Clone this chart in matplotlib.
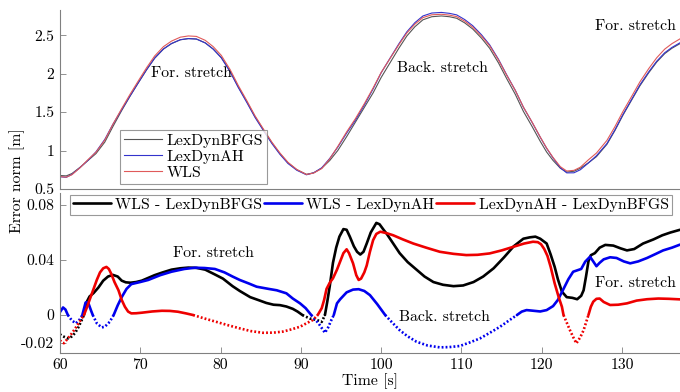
import numpy as np
import matplotlib
matplotlib.use("Agg")
import matplotlib.pyplot as plt

plt.rcParams['font.family'] = ['cmr10', 'DejaVu Serif']
plt.rcParams['mathtext.fontset'] = 'cm'
plt.rcParams['axes.unicode_minus'] = False
plt.rcParams['axes.formatter.use_mathtext'] = True

# ---- top panel: error norms ----
t_top = [60, 60.8, 61.5, 62.5, 63.5, 64.5, 65.6, 66.6, 67.7, 68.7, 69.7, 70.8, 71.8, 72.9, 73.9,
         75.0, 76.0, 77.0, 78.1, 79.1, 80.1, 81.2, 82.2, 83.3, 84.3, 85.4, 86.4, 87.4, 88.4, 89.5,
         90.7, 91.6, 92.6, 93.6, 94.6, 95.7, 96.8, 97.9, 99.0, 100.0, 101.1, 102.2, 103.2, 104.2,
         105.2, 106.3, 107.5, 108.5, 109.4, 110.4, 111.4, 112.5, 113.5, 114.6, 115.6, 116.7, 117.7,
         118.8, 119.8, 120.6, 121.4, 122.3, 123.1, 124.0, 124.8, 125.8, 126.8, 128.1, 129.1, 130.1,
         131.2, 132.2, 133.3, 134.3, 135.3, 136.2, 137.2]
bfgs = [0.675, 0.67, 0.70, 0.78, 0.87, 0.96, 1.11, 1.31, 1.52, 1.70, 1.87, 2.05, 2.20, 2.32, 2.39,
        2.44, 2.455, 2.45, 2.40, 2.32, 2.21, 2.03, 1.83, 1.63, 1.44, 1.26, 1.10, 0.96, 0.84, 0.75,
        0.69, 0.71, 0.77, 0.87, 1.00, 1.18, 1.37, 1.56, 1.75, 1.95, 2.14, 2.33, 2.49, 2.61,
        2.70, 2.74, 2.75, 2.74, 2.72, 2.66, 2.58, 2.46, 2.33, 2.14, 1.94, 1.73, 1.51,
        1.31, 1.12, 0.98, 0.87, 0.77, 0.72, 0.73, 0.77, 0.84, 0.92, 1.08, 1.26, 1.46,
        1.66, 1.84, 2.01, 2.15, 2.26, 2.33, 2.39]
lexah = [0.659, 0.651, 0.689, 0.777, 0.872, 0.983, 1.145, 1.34, 1.532, 1.703, 1.87, 2.052, 2.202, 2.321, 2.392,
         2.441, 2.456, 2.45, 2.399, 2.317, 2.205, 2.023, 1.822, 1.62, 1.43, 1.25, 1.09, 0.95, 0.831, 0.743,
         0.684, 0.71, 0.775, 0.897, 1.044, 1.226, 1.396, 1.591, 1.802, 2.011, 2.2, 2.387, 2.544, 2.663,
         2.75, 2.788, 2.796, 2.784, 2.764, 2.703, 2.623, 2.504, 2.375, 2.187, 1.989, 1.782, 1.564,
         1.364, 1.173, 1.028, 0.903, 0.775, 0.709, 0.71, 0.75, 0.838, 0.932, 1.09, 1.269, 1.469,
         1.669, 1.852, 2.022, 2.161, 2.272, 2.341, 2.401]
wls = [0.661, 0.653, 0.685, 0.774, 0.881, 0.978, 1.136, 1.339, 1.545, 1.724, 1.894, 2.077, 2.229, 2.351, 2.423,
       2.474, 2.49, 2.484, 2.433, 2.35, 2.237, 2.052, 1.848, 1.644, 1.451, 1.269, 1.108, 0.967, 0.846, 0.753,
       0.688, 0.707, 0.765, 0.891, 1.053, 1.242, 1.415, 1.608, 1.814, 2.015, 2.196, 2.376, 2.529, 2.644,
       2.729, 2.765, 2.772, 2.761, 2.741, 2.682, 2.604, 2.487, 2.362, 2.178, 1.984, 1.781, 1.566,
       1.367, 1.176, 1.032, 0.909, 0.79, 0.733, 0.742, 0.783, 0.879, 0.967, 1.131, 1.31, 1.508,
       1.707, 1.891, 2.064, 2.206, 2.319, 2.39, 2.452]

# ---- bottom panel: differences ----
t_k = [60.0, 60.4, 61.0, 61.5, 61.9, 62.3, 62.7, 63.0, 63.3, 63.7, 64.2, 64.8, 65.4, 66.0, 66.6, 67.2,
       67.7, 68.2, 68.8, 69.5, 70.2, 71.0, 71.8, 72.8, 73.9, 75.0, 76.0, 77.0, 78.1, 79.3, 80.3, 81.5,
       82.4, 83.7, 84.9, 85.7, 86.6, 87.4, 88.2, 89.0, 89.6, 90.2, 91.1, 92.0, 92.6, 93.0, 93.3, 93.6,
       94.0, 94.4, 94.8, 95.3, 95.7, 96.1, 96.6, 97.0, 97.4, 97.8, 98.2, 98.7, 99.4, 99.8, 100.3, 100.7,
       101.5, 102.3, 103.3, 104.4, 105.4, 106.5, 107.7, 109.0, 110.2, 111.5, 112.7, 114.0, 115.3, 116.5,
       117.7, 118.5, 119.2, 119.8, 120.6, 121.1, 121.6, 122.0, 122.5, 123.1, 123.8, 124.4, 124.9, 125.2,
       125.5, 125.8, 126.1, 126.6, 127.2, 127.9, 128.9, 129.8, 130.6, 131.5, 132.6, 133.9, 135.0, 136.0,
       137.2]
wls_bfgs = [-0.014, -0.0155, -0.017, -0.0155, -0.013, -0.009, -0.004, 0.0, 0.009, 0.0135, 0.016, 0.02,
            0.025, 0.028, 0.0292, 0.028, 0.025, 0.0238, 0.0235, 0.024, 0.025, 0.027, 0.029, 0.031, 0.033,
            0.034, 0.0345, 0.0343, 0.033, 0.0295, 0.0265, 0.021, 0.0175, 0.013, 0.0105, 0.0088, 0.0075,
            0.0072, 0.0062, 0.0045, 0.0025, 0.0, -0.0025, -0.0036, -0.005, 0.0, 0.01, 0.021, 0.038, 0.049,
            0.057, 0.0625, 0.062, 0.057, 0.05, 0.046, 0.044, 0.046, 0.052, 0.06, 0.067, 0.066, 0.062, 0.059,
            0.052, 0.045, 0.0385, 0.033, 0.028, 0.024, 0.022, 0.021, 0.0215, 0.024, 0.028, 0.034, 0.042,
            0.050, 0.0555, 0.0565, 0.057, 0.0555, 0.052, 0.044, 0.035, 0.026, 0.017, 0.013, 0.0125, 0.0115,
            0.014, 0.018, 0.028, 0.039, 0.0435, 0.045, 0.049, 0.051, 0.0505, 0.0485, 0.047, 0.048, 0.052,
            0.055, 0.058, 0.060, 0.062]

t_b = [60.0, 60.4, 60.7, 61.0, 61.5, 62.0, 62.5, 62.8, 63.2, 63.5, 63.9, 64.1, 64.6, 65.2, 65.6, 66.2,
       66.7, 67.2, 67.7, 68.3, 68.9, 70.0, 71.0, 72.5, 73.9, 75.5, 76.8, 78.0, 79.3, 80.5, 81.5, 82.4,
       83.5, 84.5, 86.0, 87.0, 88.2, 89.0, 89.9, 90.6, 91.3, 92.2, 93.0, 93.4, 93.8, 94.1, 94.5, 94.9,
       95.7, 96.5, 97.2, 97.9, 98.6, 99.5, 100.5, 101.3, 102.3, 103.3, 104.4, 105.8, 107.3, 108.5, 109.8,
       111.0, 112.3, 113.5, 114.8, 115.9, 116.9, 117.5, 118.1, 118.8, 119.8, 120.6, 121.4, 122.0, 122.7,
       123.3, 123.9, 124.4, 124.9, 125.4, 126.0, 126.4, 126.8, 127.2, 127.7, 128.5, 129.3, 130.2, 131.0,
       132.0, 133.1, 134.2, 135.1, 136.2, 137.2]
wls_ah = [0.002, 0.0055, 0.004, 0.0, -0.004, -0.006, -0.003, 0.0, 0.009, 0.0095, 0.003, 0.0, -0.006,
          -0.009, -0.0085, -0.005, 0.0, 0.007, 0.013, 0.019, 0.0225, 0.024, 0.0255, 0.029, 0.0315, 0.0335,
          0.0344, 0.0342, 0.0335, 0.031, 0.028, 0.0255, 0.023, 0.0206, 0.019, 0.018, 0.0158, 0.012, 0.0085,
          0.005, 0.0, -0.006, -0.0129, -0.009, -0.0036, 0.0, 0.0085, 0.0115, 0.0165, 0.0185, 0.0188, 0.0175,
          0.0145, 0.008, 0.0, -0.005, -0.011, -0.0155, -0.0194, -0.0222, -0.0235, -0.0233, -0.0225, -0.020,
          -0.017, -0.013, -0.0085, -0.004, 0.0, 0.0025, 0.0036, 0.0032, 0.0026, 0.0036, 0.0065, 0.011, 0.019,
          0.026, 0.0315, 0.0325, 0.0335, 0.0388, 0.0424, 0.039, 0.0355, 0.038, 0.0405, 0.042, 0.0415, 0.039,
          0.0376, 0.039, 0.0415, 0.0445, 0.047, 0.049, 0.0512]

t_r = [60.0, 60.5, 61.0, 61.5, 62.0, 62.5, 63.0, 63.4, 63.7, 64.2, 64.6, 65.0, 65.4, 65.8, 66.1, 66.4,
       66.8, 67.3, 67.7, 68.1, 68.5, 68.9, 69.5, 70.2, 71.5, 72.7, 73.7, 74.7, 75.7, 76.6, 78.0, 79.5,
       81.0, 82.4, 83.8, 85.3, 86.6, 87.8, 88.9, 89.9, 90.7, 91.5, 92.1, 92.6, 92.9, 93.2, 93.6, 94.0,
       94.5, 94.9, 95.3, 95.7, 96.0, 96.5, 96.9, 97.2, 97.5, 97.9, 98.2, 98.6, 99.0, 99.4, 99.9, 100.7,
       101.5, 102.7, 104.0, 105.6, 107.3, 109.0, 110.6, 112.0, 113.5, 115.0, 116.5, 117.8, 118.9, 119.5,
       119.9, 120.3, 120.7, 121.1, 121.6, 122.1, 122.5, 122.7, 123.1, 123.5, 123.9, 124.3, 124.8, 125.2,
       125.5, 125.8, 126.1, 126.4, 126.8, 127.2, 127.7, 128.5, 129.5, 130.6, 131.8, 133.1, 134.5, 135.8,
       137.2]
ah_bfgs = [-0.0185, -0.0205, -0.017, -0.0133, -0.009, -0.0045, 0.0, 0.006, 0.011, 0.019, 0.0255, 0.031,
           0.034, 0.035, 0.0335, 0.030, 0.024, 0.018, 0.011, 0.006, 0.0025, 0.0012, 0.0013, 0.0017, 0.0026,
           0.0031, 0.003, 0.0024, 0.0012, 0.0, -0.0025, -0.005, -0.0075, -0.0097, -0.0117, -0.0129, -0.0128,
           -0.012, -0.0103, -0.0085, -0.006, -0.0036, 0.0, 0.005, 0.011, 0.019, 0.0235, 0.0267, 0.033, 0.039,
           0.045, 0.0478, 0.045, 0.0376, 0.029, 0.0255, 0.0265, 0.031, 0.036, 0.046, 0.0545, 0.059, 0.0606,
           0.0595, 0.058, 0.055, 0.052, 0.049, 0.046, 0.0445, 0.0436, 0.0438, 0.0448, 0.047, 0.0497, 0.052,
           0.0533, 0.053, 0.0515, 0.048, 0.043, 0.035, 0.023, 0.013, 0.006, 0.0, -0.0055, -0.011, -0.016,
           -0.0206, -0.016, -0.011, -0.0055, 0.0, 0.006, 0.0097, 0.0118, 0.012, 0.0095, 0.0073, 0.0075,
           0.0085, 0.0105, 0.0115, 0.012, 0.0118, 0.0114]

GRAY = '#808080'
FS = 11.3

fig = plt.figure(figsize=(6.8, 3.92), dpi=100)
ax1 = fig.add_axes([0.088, 0.518, 0.912, 0.456])
ax2 = fig.add_axes([0.088, 0.0995, 0.912, 0.408])

for ax in (ax1, ax2):
    for s in ('top', 'right'):
        ax.spines[s].set_visible(False)
    for s in ('left', 'bottom'):
        ax.spines[s].set_color(GRAY)
        ax.spines[s].set_linewidth(0.8)
    ax.tick_params(direction='in', length=4, width=0.6, color=GRAY, labelsize=FS, pad=4)
    ax.set_xlim(60, 137.2)

# top
ax1.plot(t_top, bfgs, color='#555555', lw=0.8, label='LexDynBFGS')
ax1.plot(t_top, lexah, color='#3333cc', lw=0.8, label='LexDynAH')
ax1.plot(t_top, wls, color='#e05a5a', lw=0.8, label='WLS')
ax1.set_ylim(0.5, 2.825)
ax1.set_yticks([0.5, 1, 1.5, 2, 2.5], ['0.5', '1', '1.5', '2', '2.5'])
ax1.tick_params(axis='x', bottom=False, labelbottom=False)
leg1 = ax1.legend(loc='lower left', bbox_to_anchor=(0.097, 0.03), fontsize=FS, frameon=True,
                  fancybox=False, edgecolor=GRAY, handlelength=2.4, labelspacing=0.12,
                  borderpad=0.25, handletextpad=0.3, borderaxespad=0)
leg1.get_frame().set_linewidth(0.8)
ax1.text(76.4, 2.0, 'For. stretch', fontsize=FS, ha='center', va='center')
ax1.text(107.6, 2.07, 'Back. stretch', fontsize=FS, ha='center', va='center')
ax1.text(131.6, 2.62, 'For. stretch', fontsize=FS, ha='center', va='center')


def draw(ax, t, v, color, label):
    v = np.asarray(v, dtype=float)
    pos = np.where(v >= 0, v, np.nan)
    neg = np.where(v <= 0, v, np.nan)
    ax.plot(t, pos, color=color, lw=1.9, label=label, solid_joinstyle='round',
            solid_capstyle='round')
    ax.plot(t, neg, color=color, lw=1.9, linestyle=(0, (0.7, 0.8)))


draw(ax2, t_k, wls_bfgs, 'black', 'WLS - LexDynBFGS')
draw(ax2, t_b, wls_ah, '#0000ee', 'WLS - LexDynAH')
draw(ax2, t_r, ah_bfgs, '#ee0000', 'LexDynAH - LexDynBFGS')
ax2.set_ylim(-0.0276, 0.0887)
ax2.set_yticks([-0.02, 0, 0.04, 0.08], ['-0.02', '0', '0.04', '0.08'])
ax2.set_xticks(range(60, 131, 10), [str(x) for x in range(60, 131, 10)])
leg2 = ax2.legend(loc='upper left', bbox_to_anchor=(0.016, 0.99, 0.971, 0), mode='expand', ncol=3,
                  fontsize=FS, frameon=True, fancybox=False, edgecolor=GRAY, handlelength=2.4,
                  borderpad=0.2, handletextpad=0.3, columnspacing=0.3, borderaxespad=0)
leg2.get_frame().set_linewidth(0.8)
ax2.text(79.1, 0.045, 'For. stretch', fontsize=FS, ha='center', va='center')
ax2.text(107.9, -0.0015, 'Back. stretch', fontsize=FS, ha='center', va='center')
ax2.text(131.7, 0.023, 'For. stretch', fontsize=FS, ha='center', va='center')
ax2.set_xlabel('Time [s]', fontsize=FS, labelpad=1)

fig.text(0.026, 0.54, 'Error norm [m]', rotation=90, fontsize=FS, ha='center', va='center')

fig.savefig('out.png', dpi=100)
